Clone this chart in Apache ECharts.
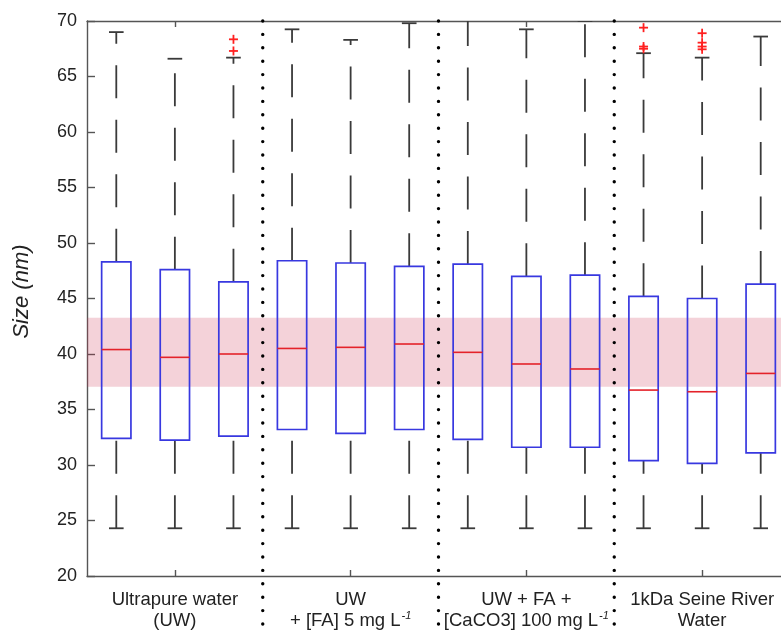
<!DOCTYPE html>
<html>
<head>
<meta charset="utf-8">
<script src="https://cdn.jsdelivr.net/npm/echarts@6/dist/echarts.min.js"></script>
<style>html,body{margin:0;padding:0;background:#fff}#c{width:781px;height:630px}</style>
</head>
<body>
<div id="c"></div>
<script>
// ---- data ----
const groupLabels = [
  'Ultrapure water\n(UW)',
  'UW\n+ [FA] 5 mg L{sup|-1}',
  'UW + FA +\n[CaCO3] 100 mg L{sup|-1}',
  '1kDa Seine River\nWater'
];
const boxPositions = [1, 2, 3, 4, 5, 6, 7, 8, 9, 10, 11, 12];
const whiskerLow  = [24.3, 24.3, 24.3, 24.3, 24.3, 24.3, 24.3, 24.3, 24.3, 24.3, 24.3, 24.3];
const q1          = [32.4, 32.25, 32.6, 33.2, 32.85, 33.2, 32.3, 31.6, 31.6, 30.4, 30.15, 31.1];
const medians     = [40.4, 39.7, 40.0, 40.5, 40.6, 40.9, 40.15, 39.1, 38.65, 36.75, 36.6, 38.25];
const q3          = [48.3, 47.6, 46.5, 48.4, 48.2, 47.9, 48.1, 47.0, 47.1, 45.2, 45.0, 46.3];
const whiskerHigh = [69.0, 66.6, 66.7, 69.25, 68.3, 69.8, 71.0, 69.25, 70.0, 67.1, 66.7, 68.6];
const outlierPos  = [3, 3, 10, 10, 10, 11, 11, 11, 11];
const outlierVal  = [68.35, 67.3, 69.4, 67.7, 67.5, 68.9, 68.05, 67.7, 67.45];
const separators  = [3.5, 6.5, 9.5];
const bandLow = 37.05, bandHigh = 43.27;
const yTicks = {min: 20, max: 70, interval: 5};

// ---- build ----
const boxData = boxPositions.map((p, i) => [p, whiskerLow[i], q1[i], medians[i], q3[i], whiskerHigh[i]]);
const outlierData = outlierPos.map((p, i) => [p, outlierVal[i]]);
const sepData = separators.map(s => [s, yTicks.max]);

const FONT = '"Liberation Sans", Arial, Helvetica, sans-serif';
const chart = echarts.init(document.getElementById('c'), null, {renderer: 'canvas'});

function renderBox(params, api) {
  const x = api.value(0);
  const lo = api.value(1), a = api.value(2), m = api.value(3), b = api.value(4), hi = api.value(5);
  const hw = api.size([0.5, 0])[0] / 2;
  const cw = api.size([0.25, 0])[0] / 2;
  const pLo = api.coord([x, lo]), pA = api.coord([x, a]), pM = api.coord([x, m]), pB = api.coord([x, b]), pHi = api.coord([x, hi]);
  const px = pLo[0];
  const wStyle = {stroke: '#3a3a3a', lineWidth: 1.8, lineDash: [33, 21.5], fill: null};
  const cStyle = {stroke: '#3a3a3a', lineWidth: 1.8, fill: null};
  return {
    type: 'group',
    children: [
      {type: 'line', shape: {x1: px, y1: pLo[1], x2: px, y2: pA[1]}, style: wStyle},
      {type: 'line', shape: {x1: px, y1: pB[1], x2: px, y2: pHi[1]}, style: wStyle},
      {type: 'line', shape: {x1: px - cw, y1: pLo[1], x2: px + cw, y2: pLo[1]}, style: cStyle},
      {type: 'line', shape: {x1: px - cw, y1: pHi[1], x2: px + cw, y2: pHi[1]}, style: cStyle},
      {type: 'rect', shape: {x: px - hw, y: pB[1], width: 2 * hw, height: pA[1] - pB[1]},
        style: {fill: null, stroke: '#3838e0', lineWidth: 1.7}},
      {type: 'line', shape: {x1: px - hw, y1: pM[1], x2: px + hw, y2: pM[1]},
        style: {stroke: '#e4222a', lineWidth: 1.6}}
    ]
  };
}

function renderOutlier(params, api) {
  const p = api.coord([api.value(0), api.value(1)]);
  const s = 4.5;
  const st = {stroke: '#ff2020', lineWidth: 1.8};
  return {type: 'group', children: [
    {type: 'line', shape: {x1: p[0] - s, y1: p[1], x2: p[0] + s, y2: p[1]}, style: st},
    {type: 'line', shape: {x1: p[0], y1: p[1] - s, x2: p[0], y2: p[1] + s}, style: st}
  ]};
}

function renderSep(params, api) {
  const p = api.coord([api.value(0), api.value(1)]);
  return {type: 'line', shape: {x1: p[0], y1: p[1], x2: p[0], y2: api.getHeight()},
    style: {stroke: '#000', lineWidth: 3.4, lineDash: [0, 13.4], lineCap: 'round'}};
}

const axisLineStyle = {color: '#555', width: 1.4};

chart.setOption({
  animation: false,
  backgroundColor: '#fff',
  grid: {left: 87, top: 21, height: 555, width: 703, containLabel: false, outerBoundsMode: 'none'},
  xAxis: [
    {type: 'value', min: 0.5, max: 12.5, show: false},
    {type: 'category', position: 'bottom', data: groupLabels, boundaryGap: true,
      axisLine: {show: true, lineStyle: axisLineStyle},
      axisTick: {show: true, inside: true, alignWithLabel: true, length: 6, lineStyle: axisLineStyle},
      axisLabel: {show: true, interval: 0, margin: 13, fontFamily: FONT, fontSize: 18.5, color: '#222', lineHeight: 21,
        rich: {sup: {fontSize: 11, fontStyle: 'italic', fontFamily: FONT, color: '#222', verticalAlign: 'top', lineHeight: 21, padding: [0, 0, 8, 1]}}},
      splitLine: {show: false}},
    {type: 'category', position: 'top', data: groupLabels, boundaryGap: true,
      axisLine: {show: true, lineStyle: axisLineStyle},
      axisTick: {show: true, inside: true, alignWithLabel: true, length: 6, lineStyle: axisLineStyle},
      axisLabel: {show: false}, splitLine: {show: false}}
  ],
  yAxis: {
    type: 'value', min: yTicks.min, max: yTicks.max, interval: yTicks.interval,
    name: 'Size (nm)', nameLocation: 'middle', nameGap: 54,
    nameTextStyle: {fontFamily: FONT, fontSize: 22, fontStyle: 'italic', color: '#222', padding: [0, 0, 0, 14]},
    axisLine: {show: true, lineStyle: axisLineStyle},
    axisTick: {show: true, inside: true, length: 8, lineStyle: axisLineStyle},
    axisLabel: {fontFamily: FONT, fontSize: 18, color: '#222', margin: 10},
    splitLine: {show: false}
  },
  series: [
    {type: 'custom', name: 'boxes', xAxisIndex: 0, renderItem: renderBox, data: boxData, clip: true, z: 2,
      encode: {x: 0, y: [1, 2, 3, 4, 5]}},
    {type: 'custom', name: 'outliers', xAxisIndex: 0, renderItem: renderOutlier, data: outlierData, clip: false, z: 3,
      encode: {x: 0, y: 1}},
    {type: 'custom', name: 'separators', xAxisIndex: 0, renderItem: renderSep, data: sepData, clip: false, z: 5,
      encode: {x: 0, y: 1},
      markArea: {silent: true, itemStyle: {color: 'rgba(205,50,80,0.22)'},
        data: [[{yAxis: bandLow}, {yAxis: bandHigh}]]}}
  ]
});
</script>
</body>
</html>
